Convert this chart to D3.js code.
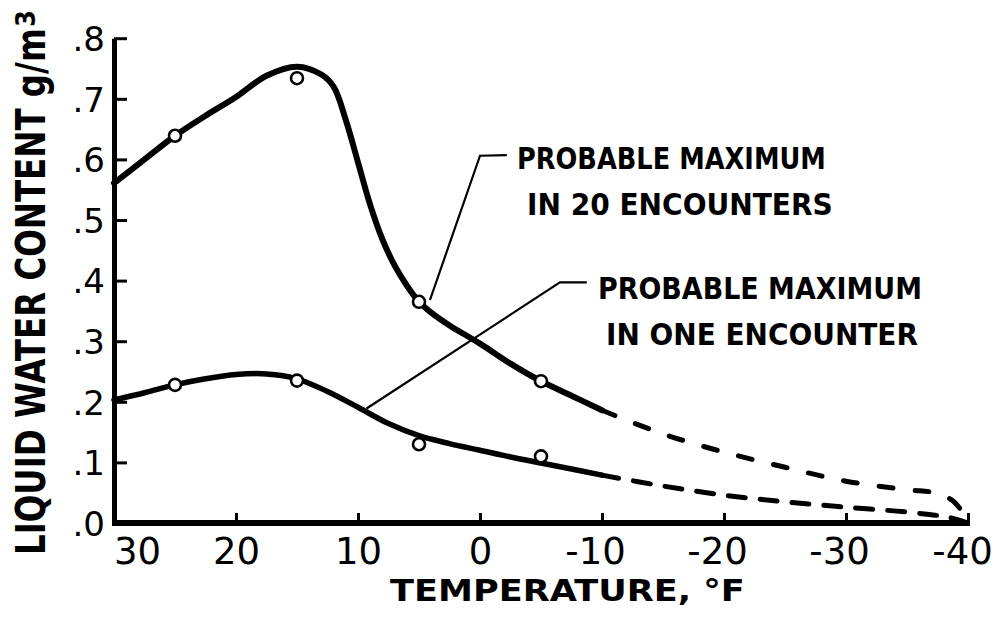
<!DOCTYPE html>
<html>
<head>
<meta charset="utf-8">
<script src="https://cdn.jsdelivr.net/npm/d3@7"></script>
<style>
body { margin: 0; background: #fff; }
svg { display: block; }
.axis text { font-family: "DejaVu Sans", sans-serif; fill: #000; }
.lbl { font-family: "DejaVu Sans", sans-serif; font-weight: bold; fill: #000; }
</style>
</head>
<body>
<div id="chart"></div>
<script>
// tick values
var tempTicks = [30, 20, 10, 0, -10, -20, -30, -40];
var lwcTicks = [0, .1, .2, .3, .4, .5, .6, .7, .8];

// probable maximum in 20 encounters (solid part, then dashed extrapolation)
var max20Temp = [30, 27.5, 25, 22.5, 20, 17.5, 15, 13, 12, 11, 10, 9, 8, 7, 6, 5, 4, 2.5, 0, -2.5, -5, -7.5, -10];
var max20Lwc  = [.561, .600, .639, .672, .703, .738, .753, .740, .720, .665, .595, .525, .468, .425, .392, .365, .347, .326, .296, .263, .234, .210, .186];
var max20DashTemp = [-10, -15, -20, -25, -30, -35, -37.5, -38.8, -39.6, -40];
var max20DashLwc  = [.186, .147, .117, .092, .069, .055, .049, .036, .016, 0];

// probable maximum in one encounter
var max1Temp = [30, 27.5, 25, 22.5, 20, 17.5, 15, 12.5, 10, 7.5, 5, 2.5, 0, -2.5, -5, -7.5, -10];
var max1Lwc  = [.203, .215, .228, .238, .245, .246, .238, .217, .191, .164, .144, .131, .120, .109, .099, .089, .079];
var max1DashTemp = [-10, -15, -20, -25, -30, -35, -38.5, -40];
var max1DashLwc  = [.079, .061, .046, .035, .026, .018, .009, 0];

// observed points (open circles)
var obsTemp = [25, 15, 5, -5];
var obs20Lwc = [.639, .734, .365, .234];
var obs1Lwc  = [.228, .235, .130, .110];

// leader lines for the two notes
var lead20Temp = [4.1, 0, -2.2];
var lead20Lwc  = [.368, .606, .607];
var lead1Temp  = [9.3, -6.55, -8.75];
var lead1Lwc   = [.189, .397, .397];

var noteText = ["PROBABLE MAXIMUM", "IN 20 ENCOUNTERS", "PROBABLE MAXIMUM", "IN ONE ENCOUNTER"];
var noteTemp = [-3.03, -3.85, -9.67, -10.33];
var noteLwc  = [.584, .508, .370, .294];
var noteLen  = [309, 306, 324, 312];

var width = 996, height = 618;

var svg = d3.select("#chart").append("svg")
    .attr("width", width)
    .attr("height", height);

var x = d3.scaleLinear().domain([30, -40]).range([114, 968]);
var y = d3.scaleLinear().domain([0, .8]).range([523, 38.2]);

function pts(ts, vs) {
    return ts.map(function(t, i){ return [t, vs[i]]; });
}

// squeeze a text horizontally so it spans len pixels
function fitText(sel, tx, ty, rot, len) {
    var w = sel.node().getComputedTextLength();
    sel.attr("transform", "translate(" + tx + "," + ty + ") rotate(" + rot + ") scale(" + (len / w) + ",1)");
}

var line = d3.line()
    .x(function(d){ return x(d[0]); })
    .y(function(d){ return y(d[1]); })
    .curve(d3.curveCatmullRom.alpha(0.5));

var straight = d3.line()
    .x(function(d){ return x(d[0]); })
    .y(function(d){ return y(d[1]); });

// x axis
var xAxis = svg.append("g")
    .attr("class", "axis")
    .attr("transform", "translate(0," + y(0) + ")")
    .call(d3.axisBottom(x).tickValues(tempTicks).tickSizeInner(-10).tickSizeOuter(0).tickPadding(8)
        .tickFormat(function(d){ return d < 0 ? "-" + (-d) : String(d); }));
xAxis.select(".domain").attr("stroke-width", 6).attr("d", "M" + (x(30) - 2) + ",0H" + (x(-40) + 2));
xAxis.selectAll(".tick line").attr("stroke-width", 3);
xAxis.selectAll(".tick text")
    .attr("font-size", 37)
    .attr("dy", "0.9em")
    .attr("dx", function(d){ return d == 30 ? 23 : (d == -40 ? -6 : (d < 0 ? -7 : 0)); });

// y axis
var yAxis = svg.append("g")
    .attr("class", "axis")
    .attr("transform", "translate(" + x(30) + ",0)")
    .call(d3.axisLeft(y).tickValues(lwcTicks).tickSizeInner(-13).tickSizeOuter(0).tickPadding(9)
        .tickFormat(function(d){ return d3.format(".1f")(d).slice(1); }));
yAxis.select(".domain").attr("stroke-width", 5);
yAxis.selectAll(".tick line").attr("stroke-width", 3);
yAxis.selectAll(".tick text")
    .attr("font-size", 34)
    .attr("dy", "0.36em");

// curves
svg.append("path").attr("d", line(pts(max20Temp, max20Lwc)))
    .attr("fill", "none").attr("stroke", "#000").attr("stroke-width", 6).attr("stroke-linecap", "round");
svg.append("path").attr("d", line(pts(max20DashTemp, max20DashLwc)))
    .attr("fill", "none").attr("stroke", "#000").attr("stroke-width", 5)
    .attr("stroke-linecap", "round").attr("stroke-dasharray", "14 22");
svg.append("path").attr("d", line(pts(max1Temp, max1Lwc)))
    .attr("fill", "none").attr("stroke", "#000").attr("stroke-width", 5.5).attr("stroke-linecap", "round");
svg.append("path").attr("d", line(pts(max1DashTemp, max1DashLwc)))
    .attr("fill", "none").attr("stroke", "#000").attr("stroke-width", 5)
    .attr("stroke-linecap", "round").attr("stroke-dasharray", "17 15");

// leader lines
svg.append("path").attr("d", straight(pts(lead20Temp, lead20Lwc)))
    .attr("fill", "none").attr("stroke", "#000").attr("stroke-width", 2.2);
svg.append("path").attr("d", straight(pts(lead1Temp, lead1Lwc)))
    .attr("fill", "none").attr("stroke", "#000").attr("stroke-width", 2.2);

// observed points
svg.selectAll(".obs")
    .data(pts(obsTemp, obs20Lwc).concat(pts(obsTemp, obs1Lwc)))
    .enter().append("circle")
    .attr("class", "obs")
    .attr("cx", function(d){ return x(d[0]); })
    .attr("cy", function(d){ return y(d[1]); })
    .attr("r", 6)
    .attr("fill", "#fff")
    .attr("stroke", "#000")
    .attr("stroke-width", 2.6);

// notes
noteText.forEach(function(t, i){
    var n = svg.append("text")
        .attr("class", "lbl note")
        .attr("font-size", 30)
        .text(t);
    fitText(n, x(noteTemp[i]), y(noteLwc[i]), 0, noteLen[i]);
});

// axis titles
var xt = svg.append("text")
    .attr("class", "lbl")
    .attr("font-size", 31)
    .text("TEMPERATURE, °F");
fitText(xt, 390, 601, 0, 355);

var yt = svg.append("text")
    .attr("class", "lbl")
    .attr("font-size", 40)
    .text("LIQUID WATER CONTENT  g/m");
fitText(yt, 45, 555, -90, 527);

var yt3 = svg.append("text")
    .attr("class", "lbl")
    .attr("font-size", 27)
    .text("3");
fitText(yt3, 35, 27, -90, 17);
</script>
</body>
</html>
